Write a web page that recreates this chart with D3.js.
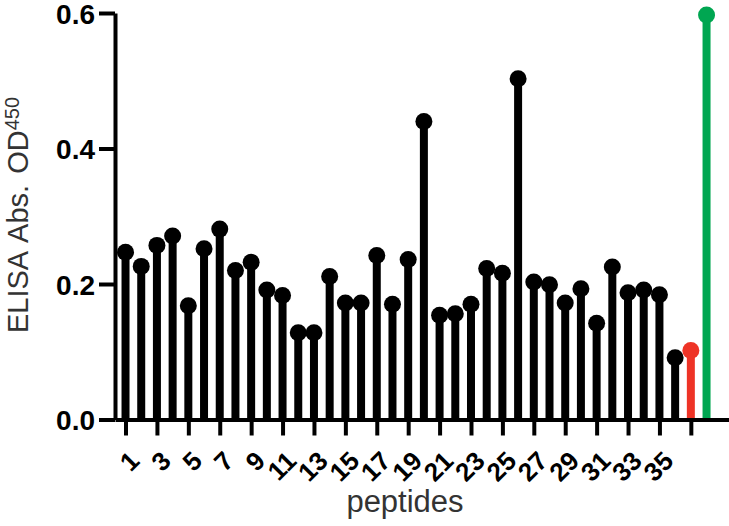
<!DOCTYPE html>
<html>
<head>
<meta charset="utf-8">
<script src="https://cdn.jsdelivr.net/npm/d3@7"></script>
<style>
  body { margin: 0; background: #fff; }
  svg { display: block; font-family: "Liberation Sans", Arial, sans-serif; }
</style>
</head>
<body>
<script>
// peptide index (1..38), last two are the controls
const peptides = d3.range(1, 39);

// ELISA absorbance
const absorbance = [
  0.247, 0.226, 0.257, 0.271, 0.168, 0.252, 0.281, 0.220, 0.232, 0.191,
  0.183, 0.128, 0.128, 0.211, 0.172, 0.172, 0.242, 0.170, 0.236, 0.440,
  0.154, 0.156, 0.170, 0.223, 0.216, 0.503, 0.203, 0.199, 0.172, 0.193,
  0.142, 0.225, 0.187, 0.191, 0.184, 0.091, 0.102, 0.597
];

// colour group for each peptide
const groups = peptides.map(p => p === 37 ? "neg" : p === 38 ? "pos" : "pep");

// ticks on every odd peptide, label stops at 35
const xTicks = d3.range(1, 38, 2);
const xTickLabels = xTicks.map(t => t <= 35 ? String(t) : "");
const yTicks = [0, 0.2, 0.4, 0.6];

class Chart {
  constructor() {
    this.data = peptides.map((p, i) => ({ id: p, value: absorbance[i], group: groups[i] }));
    this.colors = { pep: "#000000", neg: "#ee3326", pos: "#00a651" };
    this.draw();
  }

  draw() {
    this.width = 729;
    this.height = 526;
    this.svg = d3.select("body").append("svg")
      .attr("width", this.width)
      .attr("height", this.height);

    this.createScales();
    this.addStems();
    this.addAxes();
    this.addDots();
    this.addLabels();
  }

  createScales() {
    this.xScale = d3.scaleLinear()
      .domain([0.33, 39.43])
      .range([115, 729]);

    this.yScale = d3.scaleLinear()
      .domain([0, 0.6])
      .range([419.5, 13]);
  }

  addAxes() {
    const xAxis = d3.axisBottom(this.xScale)
      .tickValues(xTicks)
      .tickSize(16)
      .tickSizeOuter(0)
      .tickFormat((d, i) => xTickLabels[i]);

    const yAxis = d3.axisLeft(this.yScale)
      .tickValues(yTicks)
      .tickSize(16)
      .tickSizeOuter(0)
      .tickPadding(4)
      .tickFormat(d3.format(".1f"));

    const gx = this.svg.append("g")
      .attr("class", "x axis")
      .attr("transform", `translate(0,${this.yScale(0)})`)
      .call(xAxis);

    gx.selectAll("text")
      .attr("x", null)
      .attr("y", null)
      .attr("dy", null)
      .attr("text-anchor", "end")
      .attr("transform", "translate(15,43) rotate(-45)")
      .style("font-size", "26px")
      .style("font-weight", "bold")
      .attr("fill", "#000");

    const gy = this.svg.append("g")
      .attr("class", "y axis")
      .attr("transform", `translate(${this.xScale(0.33)},0)`)
      .call(yAxis);

    gy.selectAll("text")
      .attr("dy", "0.37em")
      .style("font-size", "28px")
      .style("font-weight", "bold")
      .attr("fill", "#000");

    this.svg.selectAll(".axis path, .axis line")
      .attr("stroke", "#000")
      .attr("stroke-width", 4);
  }

  addStems() {
    this.svg.append("g")
      .selectAll("line")
      .data(this.data)
      .enter()
      .append("line")
        .attr("x1", d => this.xScale(d.id))
        .attr("x2", d => this.xScale(d.id))
        .attr("y1", this.yScale(0))
        .attr("y2", d => this.yScale(d.value))
        .attr("stroke", d => this.colors[d.group])
        .attr("stroke-width", 8);
  }

  addDots() {
    this.svg.append("g")
      .selectAll("circle")
      .data(this.data)
      .enter()
      .append("circle")
        .attr("cx", d => this.xScale(d.id))
        .attr("cy", d => this.yScale(d.value))
        .attr("r", 8.5)
        .style("fill", d => this.colors[d.group]);
  }

  addLabels() {
    // y title with superscript
    const yt = this.svg.append("text")
      .attr("transform", "translate(28,215) rotate(-90)")
      .attr("text-anchor", "middle")
      .attr("fill", "#333")
      .style("font-size", "29px")
      .style("word-spacing", "3px");
    yt.append("tspan").text("ELISA Abs. OD");
    yt.append("tspan")
      .attr("dy", -9)
      .style("font-size", "20px")
      .text("450");

    this.svg.append("text")
      .attr("x", 405)
      .attr("y", 512)
      .attr("text-anchor", "middle")
      .attr("fill", "#333")
      .style("font-size", "31px")
      .text("peptides");
  }
}

new Chart();
</script>
</body>
</html>
